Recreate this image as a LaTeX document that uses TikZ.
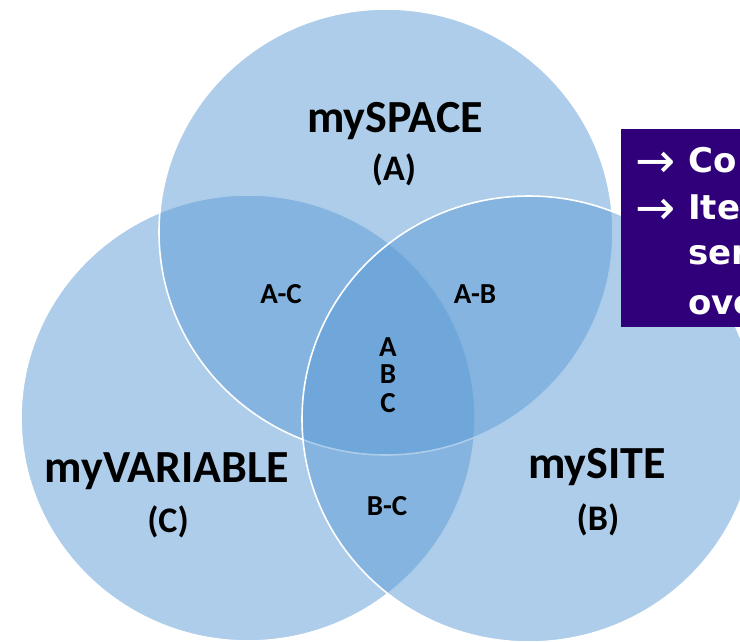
\documentclass[tikz,border=0pt]{standalone}
\usepackage{fontspec}
\setmainfont{Carlito}
\newfontfamily\boxfont{DejaVu Sans}
\definecolor{vennblue}{RGB}{91,155,213}
\definecolor{boxpurple}{RGB}{48,0,122}
\begin{document}
\begin{tikzpicture}[x=1pt,y=-1pt,
  venn/.style={fill=vennblue, fill opacity=0.5, draw=white, line width=1.6pt},
  big/.style={font=\fontsize{46}{46}\selectfont\bfseries, anchor=base, inner sep=0pt},
  mid/.style={font=\fontsize{36}{36}\selectfont\bfseries, anchor=base, inner sep=0pt},
  small/.style={font=\fontsize{29}{29}\selectfont\bfseries, anchor=base, inner sep=0pt},
  boxtxt/.style={font=\boxfont\fontsize{34}{34}\selectfont\bfseries, text=white, anchor=base west, inner sep=0pt},
  boxarrow/.style={font=\boxfont\fontsize{48}{48}\selectfont, text=white, anchor=base west, inner sep=0pt}]
\useasboundingbox (0,0) rectangle (740,641);
\clip (0,0) rectangle (740,641);
% circles: C, A, B
\draw[venn] (248,418) ellipse [x radius=227pt, y radius=223pt];
\draw[venn] (386,232) ellipse [x radius=227pt, y radius=223pt];
\draw[venn] (529,419) ellipse [x radius=227pt, y radius=223pt];
% labels
\node[big] (space) at (395,132) {mySPACE};
\node[mid] (a) at (394,180) {(A)};
\node[big] (variable) at (167,482) {myVARIABLE};
\node[mid] (c) at (168,532) {(C)};
\node[big] (site) at (597,478) {mySITE};
\node[mid] (b) at (598,530) {(B)};
\node[small] (ac) at (281,303) {A-C};
\node[small] (ab) at (475,303) {A-B};
\node[small] (bc) at (387,515) {B-C};
\node[small] (abcA) at (388,356) {A};
\node[small] (abcB) at (388,383) {B};
\node[small] (abcC) at (388,412) {C};
% purple box
\fill[boxpurple] (621,129) rectangle (750,327);
\node[boxarrow] (ar1) at (635,177) {→};
\node[boxtxt] (t1) at (688,172) {Co};
\node[boxarrow] (ar2) at (635,224) {→};
\node[boxtxt] (t2) at (688,219) {Ite};
\node[boxtxt] (t3) at (688,264) {ser};
\node[boxtxt] (t4) at (688,314) {ove};
\end{tikzpicture}
\end{document}
